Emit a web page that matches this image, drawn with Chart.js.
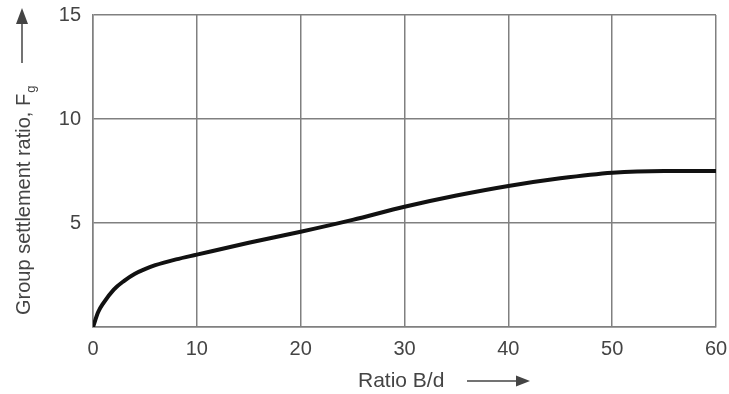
<!DOCTYPE html>
<html>
<head>
<meta charset="utf-8">
<script src="https://cdn.jsdelivr.net/npm/chart.js@4"></script>
<style>
  html, body { margin: 0; padding: 0; background: #fff; }
  #wrap { width: 729px; height: 394px; }
</style>
</head>
<body>
<div id="wrap"><canvas id="fgChart"></canvas></div>
<script>
// values
const ratioBd = [0, 0.5, 1, 2, 3, 4, 5, 6, 8, 10, 15, 20, 25, 30, 35, 40, 45, 50, 55, 60];
const fg = [0, 0.72, 1.15, 1.8, 2.22, 2.55, 2.78, 2.97, 3.25, 3.48, 4.05, 4.58, 5.15, 5.78, 6.32, 6.78, 7.15, 7.42, 7.5, 7.5];
const xTicks = [0, 10, 20, 30, 40, 50, 60];
const yTicks = [5, 10, 15];

const xTitle = 'Ratio B/d';
const yTitle = 'Group settlement ratio, F';
const ySub = 'g';

const textColor = '#444';
const gridColor = '#808080';
const font = '"Liberation Sans", Arial, sans-serif';

// axis titles with arrows, drawn by hand because of the subscript
const axisTitles = {
  id: 'axisTitles',
  afterDraw(chart) {
    const ctx = chart.ctx;
    ctx.save();
    ctx.fillStyle = textColor;
    ctx.strokeStyle = textColor;
    ctx.lineWidth = 1.5;

    // x title
    ctx.font = '21px ' + font;
    ctx.textBaseline = 'alphabetic';
    ctx.textAlign = 'left';
    ctx.fillText(xTitle, 358, 387);
    ctx.beginPath();
    ctx.moveTo(467, 381);
    ctx.lineTo(518, 381);
    ctx.stroke();
    ctx.beginPath();
    ctx.moveTo(530, 381);
    ctx.lineTo(516, 375.5);
    ctx.lineTo(516, 386.5);
    ctx.closePath();
    ctx.fill();

    // y title, rotated
    ctx.save();
    ctx.translate(30, 315);
    ctx.rotate(-Math.PI / 2);
    ctx.font = '20px ' + font;
    ctx.fillText(yTitle, 0, 0);
    const w = ctx.measureText(yTitle).width;
    ctx.font = '13px ' + font;
    ctx.fillText(ySub, w + 1, 5);
    ctx.restore();

    ctx.beginPath();
    ctx.moveTo(22, 63);
    ctx.lineTo(22, 20);
    ctx.stroke();
    ctx.beginPath();
    ctx.moveTo(22, 8);
    ctx.lineTo(16, 24);
    ctx.lineTo(28, 24);
    ctx.closePath();
    ctx.fill();
    ctx.restore();
  }
};

new Chart(document.getElementById('fgChart'), {
  type: 'line',
  data: {
    datasets: [{
      data: ratioBd.map((x, i) => ({ x: x, y: fg[i] })),
      borderColor: '#111',
      borderWidth: 4,
      pointRadius: 0,
      fill: false,
      cubicInterpolationMode: 'monotone'
    }]
  },
  options: {
    responsive: true,
    maintainAspectRatio: false,
    animation: false,
    layout: { padding: { top: 15, right: 13, left: 0, bottom: 0 } },
    plugins: {
      legend: { display: false },
      tooltip: { enabled: false }
    },
    scales: {
      x: {
        type: 'linear',
        min: 0,
        max: 60,
        afterFit: s => {
          s.height = 67;
          s.paddingLeft = 0;
          s.paddingRight = 0;
        },
        afterBuildTicks: s => { s.ticks = xTicks.map(v => ({ value: v })); },
        grid: { color: gridColor, lineWidth: 1.5, drawTicks: false },
        border: { color: gridColor, width: 1.5 },
        ticks: { color: textColor, font: { size: 20, family: font }, padding: 10, maxRotation: 0 }
      },
      y: {
        min: 0,
        max: 15,
        afterFit: s => {
          s.width = 93;
          s.paddingTop = 0;
          s.paddingBottom = 0;
        },
        afterBuildTicks: s => { s.ticks = [0].concat(yTicks).map(v => ({ value: v })); },
        grid: { color: gridColor, lineWidth: 1.5, drawTicks: false },
        border: { color: gridColor, width: 1.5 },
        ticks: {
          color: textColor,
          font: { size: 20, family: font },
          padding: 12,
          callback: v => (v === 0 ? '' : v)
        }
      }
    }
  },
  plugins: [axisTitles]
});
</script>
</body>
</html>
